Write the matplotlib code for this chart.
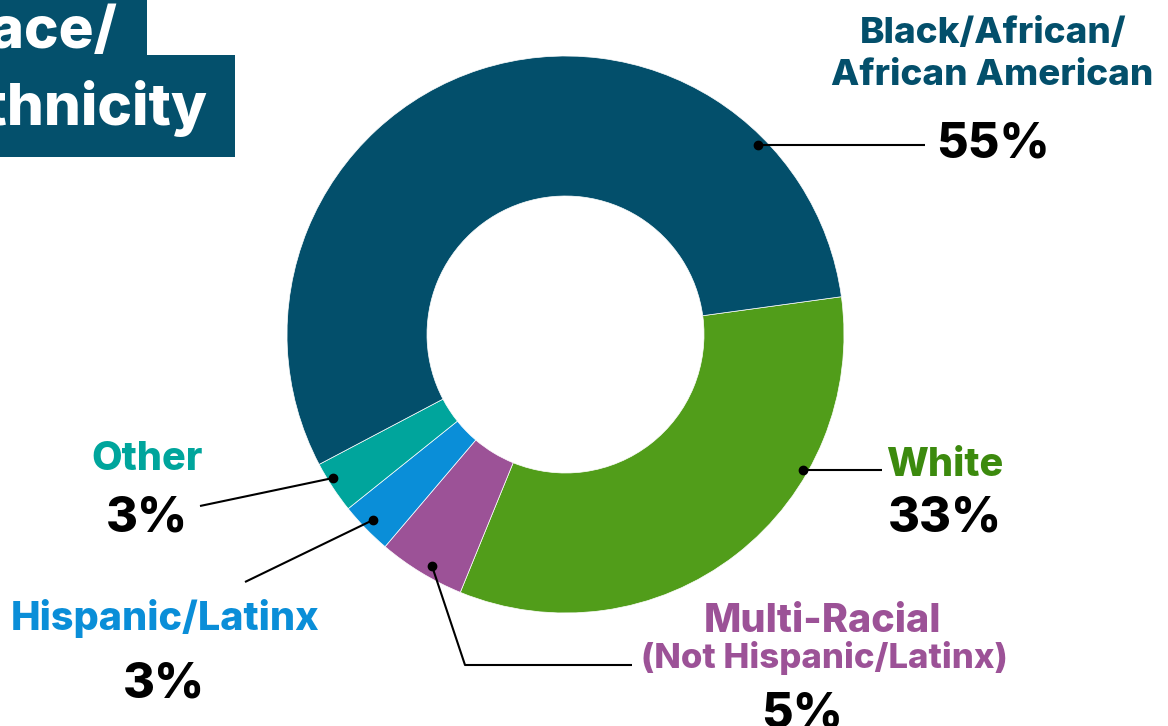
import matplotlib.pyplot as plt
from matplotlib.patches import Rectangle

# slice data, clockwise from the Black/White boundary
groups = ["White", "Multi-Racial", "Hispanic/Latinx", "Other", "Black/African American"]
shares = [33, 5, 3, 3, 55]
colors = ["#519D1A", "#9C5297", "#0A8ED8", "#00A59C", "#034F6B"]

W, H = 1168, 726

def Y(py):
    # pixel row (from top) -> data y (from bottom)
    return H - py

fig = plt.figure(figsize=(W / 100, H / 100), dpi=100)
ax = fig.add_axes([0, 0, 1, 1])
ax.axis("off")

ax.pie(shares, colors=colors, startangle=7.8, counterclock=False,
       center=(565.5, Y(334.5)), radius=278.5,
       wedgeprops=dict(width=140, edgecolor="white", linewidth=0.5))
ax.set_xlim(0, W)
ax.set_ylim(0, H)
ax.set_aspect("equal")

font = "Inter"
wt = 800

# title boxes, cut off at the left edge
ax.add_patch(Rectangle((0, Y(55)), 147, 55, color="#04506C", lw=0))
ax.add_patch(Rectangle((0, Y(157)), 235, 102, color="#04506C", lw=0))
ax.text(118, Y(48), "Race/", color="white", fontsize=42, fontweight=wt,
        family=font, ha="right", va="baseline")
ax.text(208, Y(125), "Ethnicity", color="white", fontsize=42, fontweight=wt,
        family=font, ha="right", va="baseline")

# leader lines: (dot, path...)
leaders = [
    [(758, 145), (925, 145)],
    [(803, 470), (882, 470)],
    [(432, 566), (465, 665), (632, 665)],
    [(373, 520), (245, 582)],
    [(333, 478), (200, 506)],
]
for pts in leaders:
    xs = [p[0] for p in pts]
    ys = [Y(p[1]) for p in pts]
    ax.plot(xs, ys, color="black", lw=1.5, solid_capstyle="butt")
    ax.plot(xs[0], ys[0], "o", color="black", ms=6)

lab = 28.5
small = 26.5
pct = 35

def label(x, py, s, c, size):
    ax.text(x, Y(py), s, color=c, fontsize=size, fontweight=wt,
            family=font, ha="center", va="baseline")

label(993, 43, "Black/African/", "#034F6B", small)
label(992, 85, "African American", "#034F6B", small)
label(993, 158, "55%", "black", pct)

label(945, 476, "White", "#3C8A0E", lab)
label(945, 532, "33%", "black", pct)

label(823, 632, "Multi-Racial", "#9C5297", lab)
label(824, 668, "(Not Hispanic/Latinx)", "#9C5297", 25)
label(802, 727, "5%", "black", pct)

label(147, 470, "Other", "#00A59C", lab)
label(147, 532, "3%", "black", pct)

label(165, 630, "Hispanic/Latinx", "#0A8ED8", lab)
label(164, 697, "3%", "black", pct)

fig.savefig("out.png", dpi=100)
